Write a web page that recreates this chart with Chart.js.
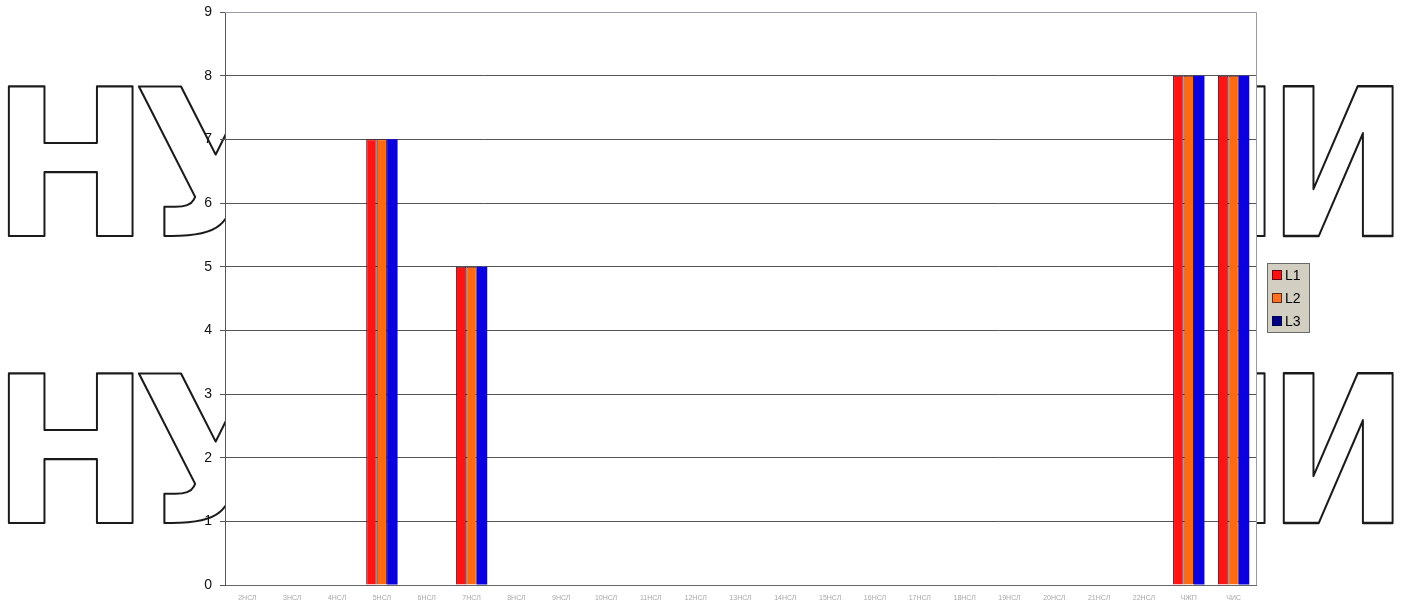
<!DOCTYPE html>
<html>
<head>
<meta charset="utf-8">
<script src="https://cdn.jsdelivr.net/npm/chart.js@4"></script>
<style>
  html, body { margin: 0; padding: 0; background: #fff; }
  #wrap { width: 1407px; height: 610px; }
</style>
</head>
<body>
<div id="wrap"><canvas id="c" width="1407" height="610"></canvas></div>
<script>
// Category labels along the bottom axis
const categories = [
  '2НСЛ','3НСЛ','4НСЛ','5НСЛ','6НСЛ','7НСЛ','8НСЛ','9НСЛ','10НСЛ','11НСЛ','12НСЛ',
  '13НСЛ','14НСЛ','15НСЛ','16НСЛ','17НСЛ','18НСЛ','19НСЛ','20НСЛ','21НСЛ','22НСЛ',
  'ЧЖП','ЧИС'
];
// Series values
const seriesL1 = [0,0,0,7,0,5,0,0,0,0,0,0,0,0,0,0,0,0,0,0,0,8,8];
const seriesL2 = [0,0,0,7,0,5,0,0,0,0,0,0,0,0,0,0,0,0,0,0,0,8,8];
const seriesL3 = [0,0,0,7,0,5,0,0,0,0,0,0,0,0,0,0,0,0,0,0,0,8,8];
const seriesNames = ['L1', 'L2', 'L3'];
// Y axis range
const yMin = 0, yMax = 9, yStep = 1;

// Background lettering, then an opaque white plot area
const backdrop = {
  id: 'backdrop',
  beforeDraw(chart) {
    const ctx = chart.ctx;
    const a = chart.chartArea;
    ctx.save();
    ctx.fillStyle = '#fff';
    ctx.fillRect(0, 0, chart.width, chart.height);
    ctx.font = 'bold 206px "DejaVu Sans", sans-serif';
    ctx.textBaseline = 'alphabetic';
    ctx.lineJoin = 'round';
    ctx.strokeStyle = '#1a1a1a';
    const drawGlyph = (txt, left, right, top, bottom) => {
      const m = ctx.measureText(txt);
      const w = m.actualBoundingBoxLeft + m.actualBoundingBoxRight;
      const h = m.actualBoundingBoxAscent;
      const sx = (right - left) / w;
      const sy = (bottom - top) / h;
      ctx.save();
      ctx.translate(left, bottom);
      ctx.scale(sx, sy);
      ctx.lineWidth = 2 / Math.min(sx, sy);
      ctx.fillStyle = '#fff';
      ctx.fillText(txt, m.actualBoundingBoxLeft, 0);
      ctx.strokeText(txt, m.actualBoundingBoxLeft, 0);
      ctx.restore();
    };
    [[86, 236], [373, 523]].forEach(([t, b]) => {
      drawGlyph('Н', 8, 133, t, b);
      drawGlyph('У', 138, 292, t, b);
      drawGlyph('Н', 1140, 1265, t, b);
      drawGlyph('И', 1283, 1393, t, b);
    });
    ctx.fillStyle = '#fff';
    ctx.fillRect(a.left, a.top, a.right - a.left, a.bottom - a.top);
    ctx.restore();
  },
  afterDraw(chart) {
    const ctx = chart.ctx;
    const a = chart.chartArea;
    ctx.save();
    // frame on the top and right sides
    ctx.strokeStyle = '#9a9aa8';
    ctx.lineWidth = 1;
    ctx.beginPath();
    ctx.moveTo(a.left, a.top + 0.5);
    ctx.lineTo(a.right + 0.5, a.top + 0.5);
    ctx.lineTo(a.right + 0.5, a.bottom);
    ctx.stroke();
    // legend box
    const lx = 1267, ly = 263, lw = 43, lh = 70;
    ctx.fillStyle = '#d3cec2';
    ctx.fillRect(lx, ly, lw, lh);
    ctx.strokeStyle = '#6a6a6a';
    ctx.strokeRect(lx + 0.5, ly + 0.5, lw - 1, lh - 1);
    const swatch = ['#ff1010', '#ff7020', '#000080'];
    const swBorder = ['#5a0a1a', '#5a2a1a', '#000050'];
    ctx.font = '14px "Liberation Sans", Arial, sans-serif';
    ctx.textBaseline = 'middle';
    ctx.textAlign = 'left';
    seriesNames.forEach((n, i) => {
      const cy = ly + 12 + i * 23;
      ctx.fillStyle = swatch[i];
      ctx.fillRect(lx + 5, cy - 5, 10, 10);
      ctx.strokeStyle = swBorder[i];
      ctx.strokeRect(lx + 5.5, cy - 4.5, 9, 9);
      ctx.fillStyle = '#000';
      ctx.fillText(n, lx + 18, cy + 1);
    });
    ctx.restore();
  }
};

new Chart(document.getElementById('c'), {
  type: 'bar',
  data: {
    labels: categories,
    datasets: [
      { label: seriesNames[0], data: seriesL1, backgroundColor: '#ff1414', borderColor: '#4a1020', borderWidth: 1 },
      { label: seriesNames[1], data: seriesL2, backgroundColor: '#ff6a10', borderColor: '#4a1020', borderWidth: 1 },
      { label: seriesNames[2], data: seriesL3, backgroundColor: '#0a00e0', borderColor: '#0a00e0', borderWidth: 0 }
    ]
  },
  options: {
    responsive: false,
    animation: false,
    devicePixelRatio: 1,
    layout: { padding: { left: 0, top: 12, right: 151, bottom: 0 } },
    plugins: { legend: { display: false }, tooltip: { enabled: false } },
    datasets: { bar: { categoryPercentage: 0.7, barPercentage: 1.0 } },
    scales: {
      x: {
        grid: { display: false, drawTicks: false },
        border: { color: '#666', width: 1 },
        ticks: {
          color: '#a8a8a8',
          font: { size: 7, family: '"Liberation Sans", Arial, sans-serif' },
          maxRotation: 0, minRotation: 0, autoSkip: false, padding: 9
        },
        afterFit(s) { s.height = 25; s.paddingLeft = 0; s.paddingRight = 0; }
      },
      y: {
        min: yMin, max: yMax,
        grid: {
          color: (c) => (c.tick && c.tick.value === yMax ? '#a0a0a0' : '#555'),
          lineWidth: 1,
          drawTicks: true,
          tickLength: 5,
          tickColor: '#555'
        },
        border: { color: '#555', width: 1 },
        ticks: {
          stepSize: yStep,
          color: '#111',
          font: { size: 14, family: '"Liberation Sans", Arial, sans-serif' },
          padding: 8
        },
        afterFit(s) { s.width = 225; s.paddingTop = 0; s.paddingBottom = 0; }
      }
    }
  },
  plugins: [backdrop]
});
</script>
</body>
</html>
